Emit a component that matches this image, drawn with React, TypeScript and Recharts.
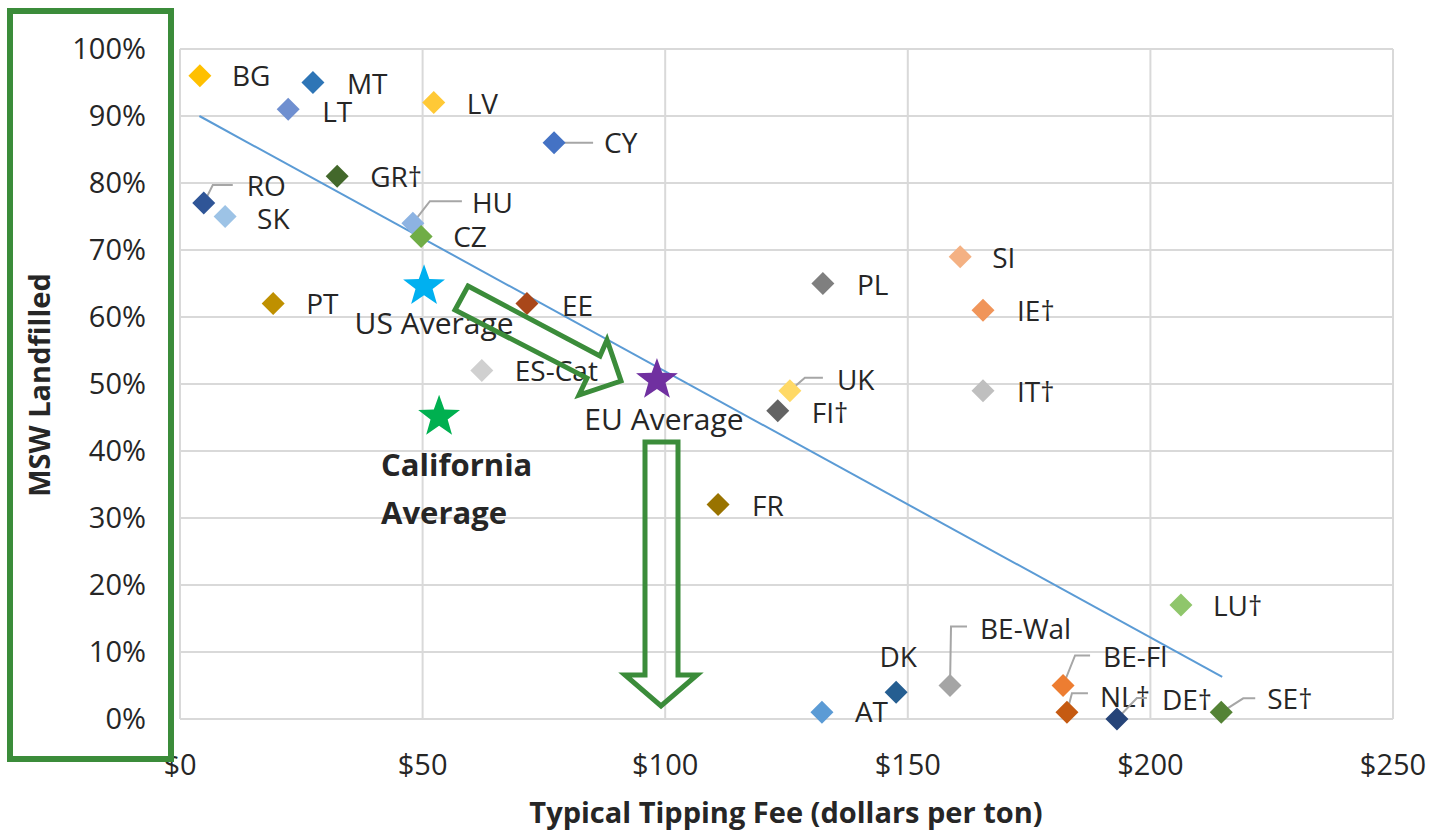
import React from "react";
import {
  CartesianGrid,
  ReferenceLine,
  Scatter,
  ScatterChart,
  XAxis,
  YAxis,
} from "recharts";

// values: fee in $/ton, share of MSW landfilled
const COUNTRIES = [
  "BG", "MT", "LT", "LV", "CY", "GR†", "RO", "SK", "HU", "CZ", "SI", "PL", "PT", "EE",
  "IE†", "ES-Cat", "UK", "IT†", "FI†", "FR", "LU†", "DK", "BE-Wal", "BE-Fl", "NL†", "DE†", "SE†", "AT",
];
const FEES = [
  4.1, 27.4, 22.3, 52.3, 77.1, 32.4, 4.9, 9.3, 48, 49.7, 160.8, 132.5, 19.2, 71.5,
  165.5, 62.2, 125.7, 165.5, 123.2, 110.9, 206.3, 147.6, 158.7, 182, 182.8, 193.1, 214.6, 132.3,
];
const LANDFILLED = [
  0.96, 0.95, 0.91, 0.92, 0.86, 0.81, 0.77, 0.75, 0.74, 0.72, 0.69, 0.65, 0.62, 0.62,
  0.61, 0.52, 0.49, 0.49, 0.46, 0.32, 0.17, 0.04, 0.05, 0.05, 0.01, 0, 0.01, 0.01,
];

const AVERAGES = ["US Average", "EU Average", "California Average"];
const AVG_FEES = [50.3, 98.3, 53.4];
const AVG_LANDFILLED = [0.646, 0.506, 0.451];

const TREND_FEES = [4, 214.8];
const TREND_LANDFILLED = [0.9, 0.063];

const X_TICKS = [0, 50, 100, 150, 200, 250];
const Y_TICKS = [0, 0.1, 0.2, 0.3, 0.4, 0.5, 0.6, 0.7, 0.8, 0.9, 1];

const COLORS: Record<string, string> = {
  BG: "#ffc000", MT: "#2e75b6", LT: "#6f8fd0", LV: "#ffc936", CY: "#4472c4",
  "GR†": "#43682b", RO: "#2f5597", SK: "#9dc3e6", HU: "#8db3e2", CZ: "#70ad47",
  SI: "#f4b183", PL: "#7f7f7f", PT: "#bf9000", EE: "#a9471a", "IE†": "#f0955a",
  "ES-Cat": "#d0d0d0", UK: "#ffd966", "IT†": "#bfbfbf", "FI†": "#636363", FR: "#997300",
  "LU†": "#8fc66b", DK: "#255e91", "BE-Wal": "#a5a5a5", "BE-Fl": "#ed7d31", "NL†": "#c55a11",
  "DE†": "#264478", "SE†": "#548235", AT: "#5b9bd5",
  "US Average": "#00b0f0", "EU Average": "#7030a0", "California Average": "#00b050",
};

// label placement relative to the marker, with optional leader line
type Place = { dx: number; dy: number; anchor?: "start" | "middle"; lead?: number[][] };
const PLACES: Record<string, Place> = {
  BG: { dx: 32, dy: 0 },
  MT: { dx: 34, dy: 2 },
  LT: { dx: 34, dy: 3 },
  LV: { dx: 33, dy: 2 },
  CY: { dx: 50, dy: 0, lead: [[0, 0], [39, 0]] },
  "GR†": { dx: 33, dy: 1 },
  RO: { dx: 43, dy: -17, lead: [[0, 0], [9, -18], [29, -18]] },
  SK: { dx: 32, dy: 3 },
  HU: { dx: 59, dy: -20, lead: [[0, 0], [17, -22], [49, -22]] },
  CZ: { dx: 32, dy: 1 },
  SI: { dx: 32, dy: 1 },
  PL: { dx: 34, dy: 2 },
  PT: { dx: 33, dy: 1 },
  EE: { dx: 35, dy: 3 },
  "IE†": { dx: 34, dy: 1 },
  "ES-Cat": { dx: 33, dy: 1 },
  UK: { dx: 47, dy: -11, lead: [[0, 0], [15, -13], [33, -13]] },
  "IT†": { dx: 34, dy: 1 },
  "FI†": { dx: 34, dy: 2 },
  FR: { dx: 34, dy: 2 },
  "LU†": { dx: 32, dy: 1 },
  DK: { dx: 2, dy: -35, anchor: "middle" },
  "BE-Wal": { dx: 30, dy: -56, lead: [[0, 0], [1, -59], [17, -59]] },
  "BE-Fl": { dx: 40, dy: -28, lead: [[0, 0], [12, -30], [27, -30]] },
  "NL†": { dx: 33, dy: -15, lead: [[0, 0], [5, -19], [21, -19]] },
  "DE†": { dx: 45, dy: -19, lead: [[0, 0], [20, -21], [30, -21]] },
  "SE†": { dx: 46, dy: -13, lead: [[0, 0], [22, -14], [34, -14]] },
  AT: { dx: 33, dy: 0 },
};

const FONT = "'Open Sans', sans-serif";
const TEXT = "#262626";
const GREEN = "#3b8c3a";

const countryData = COUNTRIES.map((name, i) => ({ name, fee: FEES[i], landfilled: LANDFILLED[i] }));
const averageData = AVERAGES.map((name, i) => ({ name, fee: AVG_FEES[i], landfilled: AVG_LANDFILLED[i] }));

function CountryMark(props: any) {
  const { cx, cy, payload } = props;
  const p = PLACES[payload.name];
  const r = 11.5;
  return (
    <g>
      {p.lead && (
        <polyline
          points={p.lead.map(([a, b]) => `${cx + a},${cy + b}`).join(" ")}
          fill="none"
          stroke="#a6a6a6"
          strokeWidth={2}
        />
      )}
      <polygon
        points={`${cx},${cy - r} ${cx + r},${cy} ${cx},${cy + r} ${cx - r},${cy}`}
        fill={COLORS[payload.name]}
      />
      <text
        x={cx + p.dx}
        y={cy + p.dy}
        dy="0.35em"
        textAnchor={p.anchor ?? "start"}
        fontFamily={FONT}
        fontSize={28}
        fill={TEXT}
      >
        {payload.name}
      </text>
    </g>
  );
}

function StarMark(props: any) {
  const { cx, cy, payload } = props;
  const R = 22;
  const rIn = 9;
  const pts: string[] = [];
  for (let k = 0; k < 10; k++) {
    const rad = k % 2 === 0 ? R : rIn;
    const a = -Math.PI / 2 + (k * Math.PI) / 5;
    pts.push(`${cx + rad * Math.cos(a)},${cy + rad * Math.sin(a)}`);
  }
  const name: string = payload.name;
  let label;
  if (name === "California Average") {
    label = (
      <text fontFamily={FONT} fontSize={31} fontWeight={700} fill={TEXT}>
        <tspan x={cx - 58} y={cy + 48} dy="0.35em">California</tspan>
        <tspan x={cx - 58} y={cy + 96} dy="0.35em">Average</tspan>
      </text>
    );
  } else {
    const dx = name === "US Average" ? 10 : 7;
    const dy = name === "US Average" ? 37 : 40;
    label = (
      <text x={cx + dx} y={cy + dy} dy="0.35em" textAnchor="middle" fontFamily={FONT} fontSize={30} fill={TEXT}>
        {name}
      </text>
    );
  }
  return (
    <g>
      <polygon points={pts.join(" ")} fill={COLORS[name]} />
      {label}
    </g>
  );
}

function XTick(props: any) {
  const { x, y, payload } = props;
  return (
    <text x={x} y={y} dy="0.35em" textAnchor="middle" fontFamily={FONT} fontSize={29} fill={TEXT}>
      {`$${payload.value}`}
    </text>
  );
}

function YTick(props: any) {
  const { x, y, payload } = props;
  return (
    <text x={x} y={y} dy="0.35em" textAnchor="end" fontFamily={FONT} fontSize={29} fill={TEXT}>
      {`${Math.round(payload.value * 100)}%`}
    </text>
  );
}

export default function App() {
  return (
    <div style={{ position: "absolute", left: 0, top: 0, width: 1433, height: 832, background: "#fff", fontFamily: FONT }}>
      <ScatterChart width={1433} height={832} margin={{ top: 49, right: 40, bottom: 0, left: 0 }}>
        <CartesianGrid stroke="#d9d9d9" strokeWidth={2} />
        <XAxis
          type="number"
          dataKey="fee"
          domain={[0, 250]}
          ticks={X_TICKS}
          height={113}
          axisLine={{ stroke: "#d9d9d9", strokeWidth: 2 }}
          tickLine={false}
          tickSize={0}
          tickMargin={46}
          tick={<XTick />}
        />
        <YAxis
          type="number"
          dataKey="landfilled"
          domain={[0, 1]}
          ticks={Y_TICKS}
          width={180}
          axisLine={false}
          tickLine={false}
          tickSize={0}
          tickMargin={34}
          tick={<YTick />}
        />
        <ReferenceLine
          segment={[
            { x: TREND_FEES[0], y: TREND_LANDFILLED[0] },
            { x: TREND_FEES[1], y: TREND_LANDFILLED[1] },
          ]}
          stroke="#5b9bd5"
          strokeWidth={2}
        />
        <Scatter data={countryData} shape={<CountryMark />} isAnimationActive={false} />
        <Scatter data={averageData} shape={<StarMark />} isAnimationActive={false} />
      </ScatterChart>

      {/* annotations: axis titles, green box and arrows */}
      <svg width={1433} height={832} style={{ position: "absolute", left: 0, top: 0, pointerEvents: "none" }}>
        <text
          x={40}
          y={385}
          dy="0.35em"
          textAnchor="middle"
          transform="rotate(-90 40 385)"
          fontFamily={FONT}
          fontSize={29}
          fontWeight={700}
          fill={TEXT}
        >
          MSW Landfilled
        </text>
        <text x={786} y={813} dy="0.35em" textAnchor="middle" fontFamily={FONT} fontSize={29} fontWeight={700} fill={TEXT}>
          Typical Tipping Fee (dollars per ton)
        </text>
        <rect x={10} y={11} width={161} height={748} fill="none" stroke={GREEN} strokeWidth={6} />
        <polygon
          points="468,286 600,356 607,340 621,381 579,395 587,378 455,310"
          fill="none"
          stroke={GREEN}
          strokeWidth={5}
          strokeLinejoin="miter"
        />
        <polygon
          points="645,442 678,442 678,675 697,675 661,706 625,675 645,675"
          fill="none"
          stroke={GREEN}
          strokeWidth={5}
        />
      </svg>
    </div>
  );
}
